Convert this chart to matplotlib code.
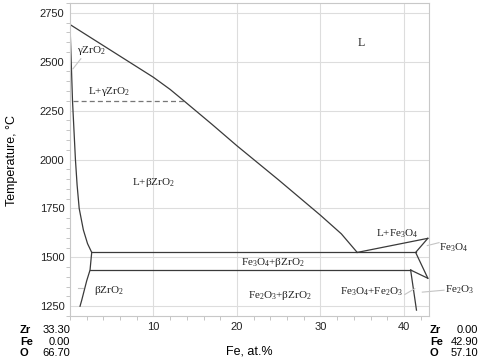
import matplotlib
matplotlib.use('Agg')
import matplotlib.pyplot as plt
from matplotlib.ticker import MultipleLocator, FixedLocator

plt.rcParams['font.family'] = ['Liberation Sans', 'DejaVu Sans']
plt.rcParams['mathtext.fontset'] = 'custom'
plt.rcParams['mathtext.rm'] = 'Liberation Serif'
plt.rcParams['mathtext.it'] = 'Liberation Serif:italic'

# liquidus from ZrO2 melting point down to the eutectic
liq_x = [0.0, 5.0, 10.0, 12.0, 13.5, 17.0, 20.0, 25.0, 30.0, 32.5, 34.4]
liq_t = [2690, 2555, 2420, 2358, 2305, 2180, 2070, 1895, 1715, 1620, 1525]

# liquidus on the Fe3O4 side
liq2_x = [34.4, 42.86]
liq2_t = [1525, 1597]

# ZrO2 solubility boundary (upper and lower part)
zr_up_x = [0.0, 0.3, 0.65, 0.85, 1.1, 1.6, 2.1, 2.6]
zr_up_t = [2690, 2300, 2000, 1870, 1750, 1640, 1570, 1525]
zr_lo_x = [2.6, 2.4, 2.0, 1.7, 1.4, 1.2]
zr_lo_t = [1525, 1435, 1380, 1330, 1280, 1250]

# invariant lines
inv_x = [[2.6, 41.4], [2.4, 40.8]]
inv_t = [1525, 1435]

# Fe3O4 phase field and Fe2O3 boundary
fe_lines_x = [[42.86, 41.4, 42.86], [40.8, 42.86], [40.8, 41.5]]
fe_lines_t = [[1597, 1525, 1393], [1435, 1393], [1435, 1230]]

# gamma/beta transition (dashed)
dash_x = [0.3, 13.6]
dash_t = [2300, 2300]

labels = ['L', r'$\mathrm{\gamma ZrO_2}$', r'$\mathrm{L{+}\gamma ZrO_2}$', r'$\mathrm{L{+}\beta ZrO_2}$',
          r'$\mathrm{Fe_3O_4{+}\beta ZrO_2}$', r'$\mathrm{Fe_2O_3{+}\beta ZrO_2}$', r'$\mathrm{\beta ZrO_2}$',
          r'$\mathrm{L{+}Fe_3O_4}$', r'$\mathrm{Fe_3O_4}$', r'$\mathrm{Fe_3O_4{+}Fe_2O_3}$', r'$\mathrm{Fe_2O_3}$']
label_x = [34.9, 2.6, 4.7, 10.0, 24.3, 25.1, 4.6, 39.2, 46.0, 36.1, 46.6]
label_t = [2597, 2556, 2347, 1883, 1475, 1307, 1332, 1623, 1551, 1322, 1332]

# leader lines (from, to)
lead_x = [[0.36, 1.3], [0.9, 1.6], [42.8, 44.2], [40.1, 41.3], [42.2, 44.8]]
lead_t = [[2464, 2515], [1345, 1345], [1560, 1575], [1310, 1340], [1322, 1332]]

left_comp = [('Zr', '33.30'), ('Fe', '0.00'), ('O', '66.70')]
right_comp = [('Zr', '0.00'), ('Fe', '42.90'), ('O', '57.10')]

W, H = 479, 358
fig = plt.figure(figsize=(W / 100, H / 100), dpi=100)
ax = fig.add_axes([70 / W, 1 - 316 / H, 359 / W, 313 / H])

line_kw = dict(color='#3a3a3a', lw=0.9)
ax.plot(liq_x, liq_t, **line_kw)
ax.plot(liq2_x, liq2_t, **line_kw)
ax.plot(zr_up_x, zr_up_t, **line_kw)
ax.plot(zr_lo_x, zr_lo_t, **line_kw)
for xs, t in zip(inv_x, inv_t):
    ax.plot(xs, [t, t], **line_kw)
for xs, ts in zip(fe_lines_x, fe_lines_t):
    ax.plot(xs, ts, **line_kw)
ax.plot(dash_x, dash_t, color='#777777', lw=0.9, dashes=(4, 2.5))

for xs, ts in zip(lead_x, lead_t):
    ax.plot(xs, ts, color='#c4c4c4', lw=0.8, clip_on=False)

for s, x, t in zip(labels, label_x, label_t):
    ax.text(x, t, s, fontsize=8.5 if s == 'L' else 8, ha='center', va='center',
            family='Liberation Serif', color='#222222', clip_on=False)

ax.set_xlim(0, 43)
ax.set_ylim(1200, 2800)
ax.xaxis.set_major_locator(FixedLocator([10, 20, 30, 40]))
ax.xaxis.set_minor_locator(MultipleLocator(2))
ax.yaxis.set_major_locator(FixedLocator([1250, 1500, 1750, 2000, 2250, 2500, 2750]))
ax.yaxis.set_minor_locator(MultipleLocator(50))
ax.grid(True, which='major', color='#dddddd', lw=0.8)
ax.set_axisbelow(True)
ax.tick_params(which='both', labelsize=8, colors='#222222')
ax.tick_params(which='major', length=0, pad=4)
ax.tick_params(which='minor', length=3, color='#bbbbbb')
for sp in ax.spines.values():
    sp.set_color('#c8c8c8')
    sp.set_linewidth(0.8)

fig.text(12 / W, 1 - 160 / H, 'Temperature, °C', rotation=90, ha='center', va='center', fontsize=9)
fig.text(249.5 / W, 1 - 352 / H, 'Fe, at.%', ha='center', va='center', fontsize=9)

rows_y = [330, 342, 353]
for (el, v), y in zip(left_comp, rows_y):
    fig.text(20 / W, 1 - y / H, el, fontsize=8, weight='bold', va='center')
    fig.text(70 / W, 1 - y / H, v, fontsize=8, ha='right', va='center')
for (el, v), y in zip(right_comp, rows_y):
    fig.text(430 / W, 1 - y / H, el, fontsize=8, weight='bold', va='center')
    fig.text(478 / W, 1 - y / H, v, fontsize=8, ha='right', va='center')

fig.savefig('out.png', dpi=100)
